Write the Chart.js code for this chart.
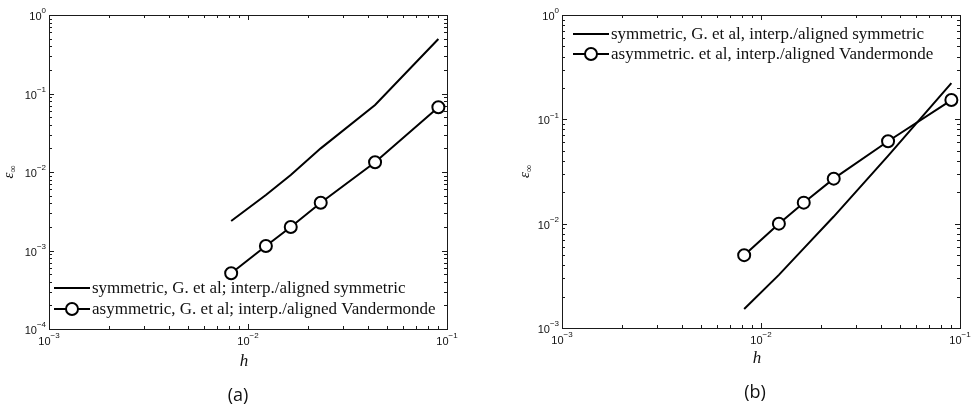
<!DOCTYPE html>
<html><head><meta charset="utf-8">
<script src="https://cdn.jsdelivr.net/npm/chart.js@4.4.1/dist/chart.umd.min.js"></script>
<style>
html,body{margin:0;padding:0;background:#fff;}
#wrap{position:relative;width:972px;height:407px;overflow:hidden;}
canvas{position:absolute;top:0;}
</style></head><body>
<div id="wrap"><canvas id="ca" width="486" height="407" style="left:0"></canvas><canvas id="cb" width="486" height="407" style="left:486px"></canvas></div>
<script>
// ---- data ----
const hValues = [0.00823, 0.0123, 0.0164, 0.0232, 0.0435, 0.0905];
const symA  = [2.38e-3, 5.09e-3, 9.16e-3, 2.00e-2, 7.14e-2, 0.495];
const asymA = [5.13e-4, 1.14e-3, 1.99e-3, 4.06e-3, 1.33e-2, 6.67e-2];
const symB  = [1.52e-3, 3.23e-3, 5.80e-3, 1.17e-2, 4.46e-2, 0.222];
const asymB = [4.99e-3, 1.00e-2, 1.59e-2, 2.70e-2, 6.17e-2, 0.153];
const xTickExps  = [-3, -2, -1];
const yTickExpsA = [-4, -3, -2, -1, 0];
const yTickExpsB = [-3, -2, -1, 0];
const legendA = ['symmetric, G. et al; interp./aligned symmetric', 'asymmetric, G. et al; interp./aligned Vandermonde'];
const legendB = ['symmetric, G. et al, interp./aligned symmetric', 'asymmetric. et al, interp./aligned Vandermonde'];
const xTitle = 'h';
const yTitleMain = 'ε', yTitleSub = '∞';
const captionA = '(a)', captionB = '(b)';

// ---- helpers ----
const SANS = '"Liberation Sans", Arial, sans-serif';
const SERIF = '"Liberation Serif", "Times New Roman", serif';

function pts(xs, ys){ return xs.map((v,i)=>({x:v, y:ys[i]})); }

function drawPow(ctx, cx, cy, exp, align){
  const base = '10', ex = String(exp).replace('-', '\u2212');
  ctx.font = '11px ' + SANS;
  const wb = ctx.measureText(base).width;
  ctx.font = '8px ' + SANS;
  const we = ctx.measureText(ex).width;
  let x0;
  if (align === 'right') x0 = cx - wb - we;
  else x0 = cx - (wb + we) / 2;
  ctx.fillStyle = '#111';
  ctx.textAlign = 'left';
  ctx.textBaseline = 'middle';
  ctx.font = '11px ' + SANS;
  ctx.fillText(base, x0, cy + 2);
  ctx.font = '8px ' + SANS;
  ctx.fillText(ex, x0 + wb, cy - 4);
}

const matlabAxes = {
  id: 'matlabAxes',
  beforeDatasetsDraw(chart, args, o){
    const {ctx, chartArea: a, scales: {x, y}} = chart;
    ctx.save();
    ctx.strokeStyle = '#1a1a1a';
    ctx.lineWidth = 1;
    ctx.beginPath();
    const eachLog = (sc, fn) => {
      const lo = Math.floor(Math.log10(sc.min) + 1e-9), hi = Math.ceil(Math.log10(sc.max) - 1e-9);
      for (let e = lo; e <= hi; e++) for (let m = 1; m <= 9; m++) {
        const v = m * Math.pow(10, e);
        if (v < sc.min * 0.999 || v > sc.max * 1.001) continue;
        fn(Math.round(sc.getPixelForValue(v)) + 0.5, m === 1 ? 5 : 3);
      }
    };
    eachLog(x, (px, len) => {
      ctx.moveTo(px, a.bottom); ctx.lineTo(px, a.bottom - len);
      ctx.moveTo(px, a.top); ctx.lineTo(px, a.top + len);
    });
    eachLog(y, (py, len) => {
      ctx.moveTo(a.left, py); ctx.lineTo(a.left + len, py);
      ctx.moveTo(a.right, py); ctx.lineTo(a.right - len, py);
    });
    ctx.stroke();
    ctx.strokeRect(Math.round(a.left) + 0.5, Math.round(a.top) + 0.5, Math.round(a.right - a.left), Math.round(a.bottom - a.top));
    ctx.restore();
  },
  afterDraw(chart, args, o){
    const {ctx, chartArea: a, scales: {x, y}} = chart;
    ctx.save();
    // tick labels
    o.xExps.forEach(e => drawPow(ctx, x.getPixelForValue(Math.pow(10, e)), a.bottom + 11, e, 'center'));
    o.yExps.forEach(e => drawPow(ctx, a.left - 3, y.getPixelForValue(Math.pow(10, e)), e, 'right'));
    // x title
    ctx.fillStyle = '#111';
    ctx.textAlign = 'center'; ctx.textBaseline = 'middle';
    ctx.font = 'italic 17px ' + SERIF;
    ctx.fillText(xTitle, (a.left + a.right) / 2 - 4, a.bottom + o.xTitleDy);
    // y title (rotated)
    ctx.save();
    ctx.translate(a.left + o.yTitleDx, (a.top + a.bottom) / 2);
    ctx.rotate(-Math.PI / 2);
    ctx.font = 'italic 15px ' + SERIF;
    const w1 = ctx.measureText(yTitleMain).width;
    ctx.font = '10px ' + SERIF;
    const w2 = ctx.measureText(yTitleSub).width;
    const s = -(w1 + w2) / 2;
    ctx.textAlign = 'left';
    ctx.font = 'italic 15px ' + SERIF;
    ctx.fillText(yTitleMain, s, -1);
    ctx.font = '10px ' + SERIF;
    ctx.fillText(yTitleSub, s + w1, 3);
    ctx.restore();
    // legend
    const L = o.legend;
    chart.data.datasets.forEach((ds, i) => {
      const ly = L.anchor === 'bottom' ? a.bottom - L.dy[i] : a.top + L.dy[i];
      const lx = a.left + L.dx;
      ctx.strokeStyle = ds.borderColor; ctx.lineWidth = ds.borderWidth;
      ctx.beginPath(); ctx.moveTo(lx, ly); ctx.lineTo(lx + L.len, ly); ctx.stroke();
      if (ds.pointRadius > 0) {
        ctx.beginPath(); ctx.arc(lx + L.len / 2, ly, ds.pointRadius, 0, Math.PI * 2);
        ctx.fillStyle = ds.pointBackgroundColor; ctx.fill();
        ctx.lineWidth = ds.pointBorderWidth; ctx.strokeStyle = ds.pointBorderColor; ctx.stroke();
      }
      ctx.fillStyle = '#111';
      ctx.font = L.font + ' ' + SERIF;
      ctx.textAlign = 'left'; ctx.textBaseline = 'middle';
      ctx.fillText(ds.label, lx + L.len + 2, ly + 1);
    });
    // caption
    ctx.font = '18px "Open Sans", "Noto Sans", sans-serif';
    ctx.textAlign = 'center'; ctx.textBaseline = 'middle';
    ctx.fillStyle = '#111';
    ctx.fillText(o.caption, o.captionX, o.captionY);
    ctx.restore();
  }
};

function lineDs(label, data){
  return {label, data, borderColor:'#000', borderWidth:2, pointRadius:0, pointHoverRadius:0, tension:0, fill:false};
}
function markDs(label, data){
  return {label, data, borderColor:'#000', borderWidth:2, pointRadius:6, pointHoverRadius:6,
    pointBorderWidth:2, pointBorderColor:'#000', pointBackgroundColor:'#fff', pointStyle:'circle', tension:0, fill:false};
}

function makeChart(id, datasets, ymin, padding, pluginOpts){
  return new Chart(document.getElementById(id), {
    type: 'line',
    data: {datasets},
    options: {
      responsive: false, animation: false, events: [],
      layout: {padding},
      scales: {
        x: {type:'logarithmic', min:1e-3, max:1e-1, display:false},
        y: {type:'logarithmic', min:ymin, max:1, display:false}
      },
      plugins: {legend:{display:false}, tooltip:{enabled:false}, matlabAxes: pluginOpts}
    },
    plugins: [matlabAxes]
  });
}

makeChart('ca', [lineDs(legendA[0], pts(hValues, symA)), markDs(legendA[1], pts(hValues, asymA))], 1e-4,
  {left:49, right:39, top:15, bottom:78},
  {xExps:xTickExps, yExps:yTickExpsA, xTitleDy:33, yTitleDx:-39,
   legend:{anchor:'bottom', dx:5, dy:[41, 20], len:36, font:'17px'},
   caption:captionA, captionX:238, captionY:396});

makeChart('cb', [lineDs(legendB[0], pts(hValues, symB)), markDs(legendB[1], pts(hValues, asymB))], 1e-3,
  {left:76, right:12, top:15, bottom:79},
  {xExps:xTickExps, yExps:yTickExpsB, xTitleDy:31, yTitleDx:-36,
   legend:{anchor:'top', dx:11, dy:[19, 39], len:36, font:'17px'},
   caption:captionB, captionX:269, captionY:393});
</script>
</body></html>
